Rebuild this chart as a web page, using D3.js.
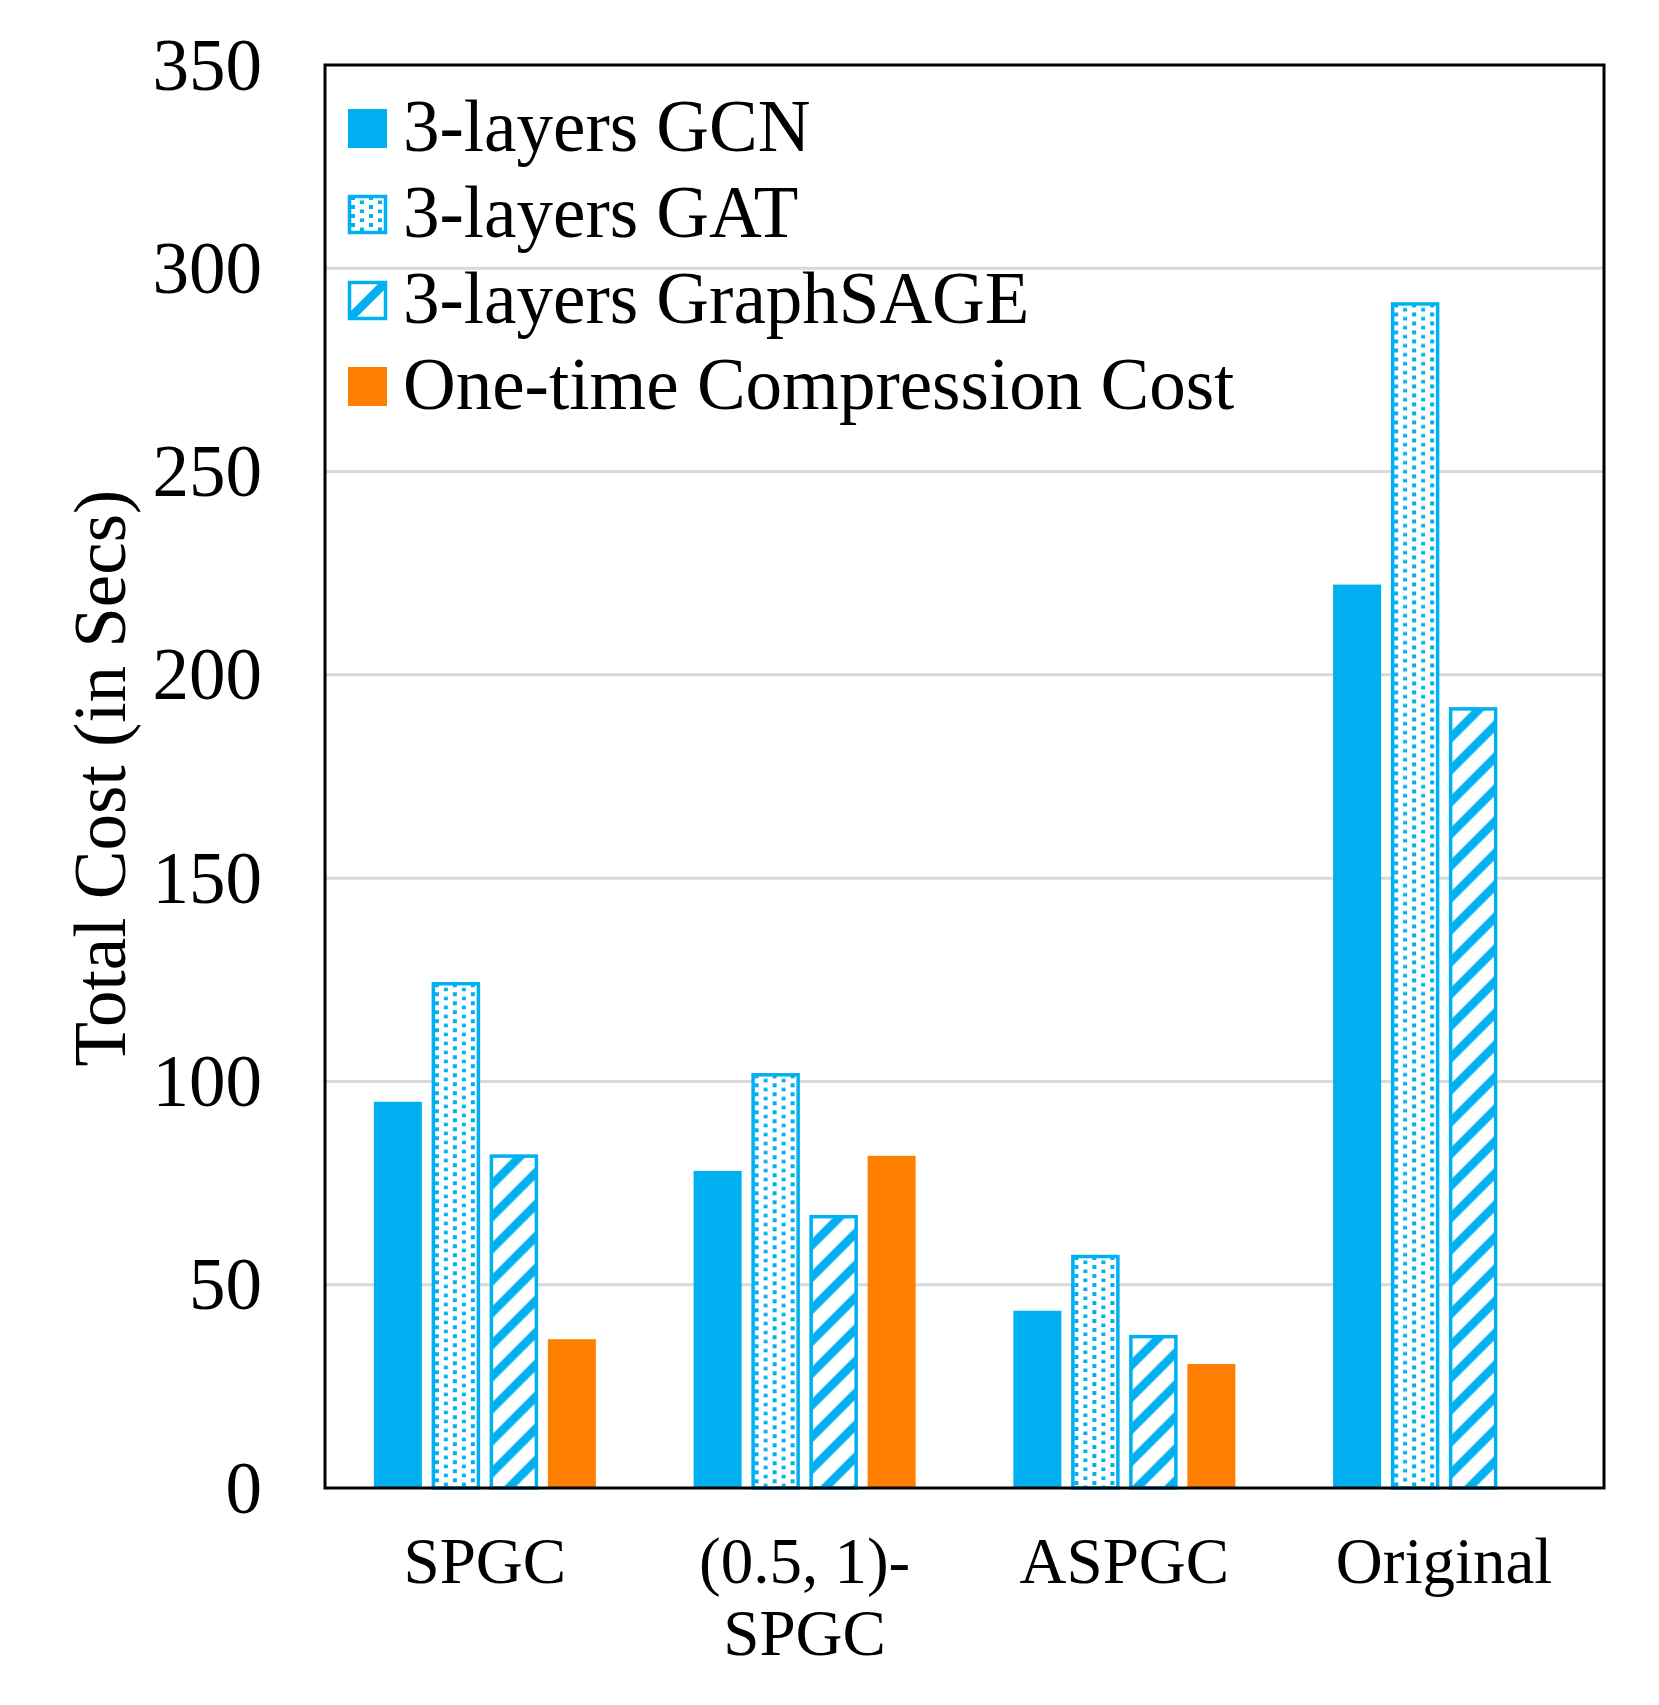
<!DOCTYPE html>
<html><head><meta charset="utf-8">
<script src="https://cdn.jsdelivr.net/npm/d3@7"></script>
<style>html,body{margin:0;padding:0;background:#fff}</style>
</head><body>
<svg id="chart" width="1659" height="1705"></svg>
<script>
// ---- data ----
const categories = ["SPGC", "(0.5, 1)-SPGC", "ASPGC", "Original"];
const categoryLines = [["SPGC"], ["(0.5, 1)-", "SPGC"], ["ASPGC"], ["Original"]];
const seriesNames = ["3-layers GCN", "3-layers GAT", "3-layers GraphSAGE", "One-time Compression Cost"];
const gcnValues = [95, 78, 43.6, 222.2];
const gatValues = [124.4, 102, 57.3, 291.6];
const sageValues = [82, 67.1, 37.6, 192];
const compressionValues = [36.6, 81.7, 30.5, null];
const yTickValues = [0, 50, 100, 150, 200, 250, 300, 350];
const yTitle = "Total Cost (in Secs)";

// ---- setup ----
(function () {
const BLUE = "#00B0F0", ORANGE = "#FF7F00";
const FONT = "'Liberation Serif','Times New Roman',serif";
const svg = d3.select("#chart");
const pL = 325, pR = 1604, pT = 65, pB = 1488;

const seriesValues = [gcnValues, gatValues, sageValues, compressionValues];
const seriesStyle = ["solid", "dots", "stripes", "orange"];

const x0 = d3.scaleBand().domain(categories).range([pL, pR]).padding(0);
const groupW = 232;
const x1 = d3.scaleBand().domain(seriesNames).range([0, groupW]).paddingInner(10 / 58).paddingOuter(5 / 58);
const y = d3.scaleLinear().domain([0, 350]).range([pB, pT]);

// patterns
const defs = svg.append("defs");
const pd = defs.append("pattern").attr("id", "dots").attr("patternUnits", "userSpaceOnUse")
  .attr("width", 18).attr("height", 9);
pd.append("rect").attr("width", 18).attr("height", 9).attr("fill", "#fff");
pd.append("rect").attr("x", 3).attr("y", 1).attr("width", 4).attr("height", 4).attr("fill", BLUE);
pd.append("rect").attr("x", 12).attr("y", 5.5).attr("width", 4).attr("height", 4).attr("fill", BLUE);

const ps = defs.append("pattern").attr("id", "stripes").attr("patternUnits", "userSpaceOnUse")
  .attr("width", 32).attr("height", 32);
ps.append("rect").attr("width", 32).attr("height", 32).attr("fill", "#fff");
ps.append("path").attr("d", "M-8,40 L40,-8 M-8,8 L8,-8 M24,40 L40,24")
  .attr("stroke", BLUE).attr("stroke-width", 8.5);

const psl = defs.append("pattern").attr("id", "stripesLegend").attr("patternUnits", "userSpaceOnUse")
  .attr("width", 39).attr("height", 39);
psl.append("rect").attr("width", 39).attr("height", 39).attr("fill", "#fff");
psl.append("path").attr("d", "M-8,47 L47,-8").attr("stroke", BLUE).attr("stroke-width", 8.5);

// gridlines
svg.append("g").selectAll("line").data(yTickValues.filter(v => v > 0 && v < 350)).join("line")
  .attr("x1", pL).attr("x2", pR)
  .attr("y1", d => y(d)).attr("y2", d => y(d))
  .attr("stroke", "#d9d9d9").attr("stroke-width", 3);

// bars
const barsG = svg.append("g");
seriesNames.forEach((s, si) => {
  const style = seriesStyle[si];
  const data = categories.map((c, ci) => ({c, v: seriesValues[si][ci]})).filter(d => d.v != null);
  const g = barsG.append("g");
  data.forEach(d => {
    const bx = x0(d.c) + (x0.bandwidth() - groupW) / 2 + x1(s);
    const bw = x1.bandwidth();
    const by = y(d.v), bh = y(0) - y(d.v);
    if (style === "solid" || style === "orange") {
      g.append("rect").attr("x", bx).attr("y", by).attr("width", bw).attr("height", bh)
        .attr("fill", style === "solid" ? BLUE : ORANGE);
    } else {
      const gg = g.append("g").attr("transform", `translate(${bx},${by})`);
      gg.append("rect").attr("x", 1.5).attr("y", 1.5).attr("width", bw - 3).attr("height", bh - 1.5)
        .attr("fill", style === "dots" ? "url(#dots)" : "url(#stripes)")
        .attr("stroke", BLUE).attr("stroke-width", 3.5);
    }
  });
});

// frame
svg.append("rect").attr("x", pL).attr("y", pT).attr("width", pR - pL).attr("height", pB - pT)
  .attr("fill", "none").attr("stroke", "#000").attr("stroke-width", 3);

// y axis
const yAxis = svg.append("g").attr("transform", `translate(${pL},0)`)
  .call(d3.axisLeft(y).tickValues(yTickValues).tickSize(0).tickPadding(63).tickFormat(d3.format("d")));
yAxis.select(".domain").remove();
yAxis.selectAll("text").attr("font-family", FONT).attr("font-size", 73).attr("fill", "#000").attr("dy", "0.33em");

// y title
svg.append("text").attr("transform", "translate(125,778) rotate(-90)")
  .attr("text-anchor", "middle").attr("font-family", FONT).attr("font-size", 73).text(yTitle);

// x labels
const xl = svg.append("g");
categories.forEach((c, ci) => {
  const t = xl.append("text").attr("x", x0(c) + x0.bandwidth() / 2).attr("y", 1583)
    .attr("text-anchor", "middle").attr("font-family", FONT).attr("font-size", 65);
  categoryLines[ci].forEach((ln, li) => {
    t.append("tspan").attr("x", x0(c) + x0.bandwidth() / 2).attr("dy", li === 0 ? 0 : 72).text(ln);
  });
});

// legend
const leg = svg.append("g");
seriesNames.forEach((s, i) => {
  const g = leg.append("g").attr("transform", `translate(348,${109 + i * 86})`);
  const st = seriesStyle[i];
  if (st === "solid" || st === "orange") {
    g.append("rect").attr("width", 39).attr("height", 39).attr("fill", st === "solid" ? BLUE : ORANGE);
  } else {
    g.append("rect").attr("x", 1.5).attr("y", 1.5).attr("width", 36).attr("height", 36)
      .attr("fill", st === "dots" ? "url(#dots)" : "url(#stripesLegend)")
      .attr("stroke", BLUE).attr("stroke-width", 3.5);
  }
  g.append("text").attr("x", 55).attr("y", 42).attr("font-family", FONT).attr("font-size", 73)
    .attr("fill", "#000").text(s);
});
})();
</script>
</body></html>
